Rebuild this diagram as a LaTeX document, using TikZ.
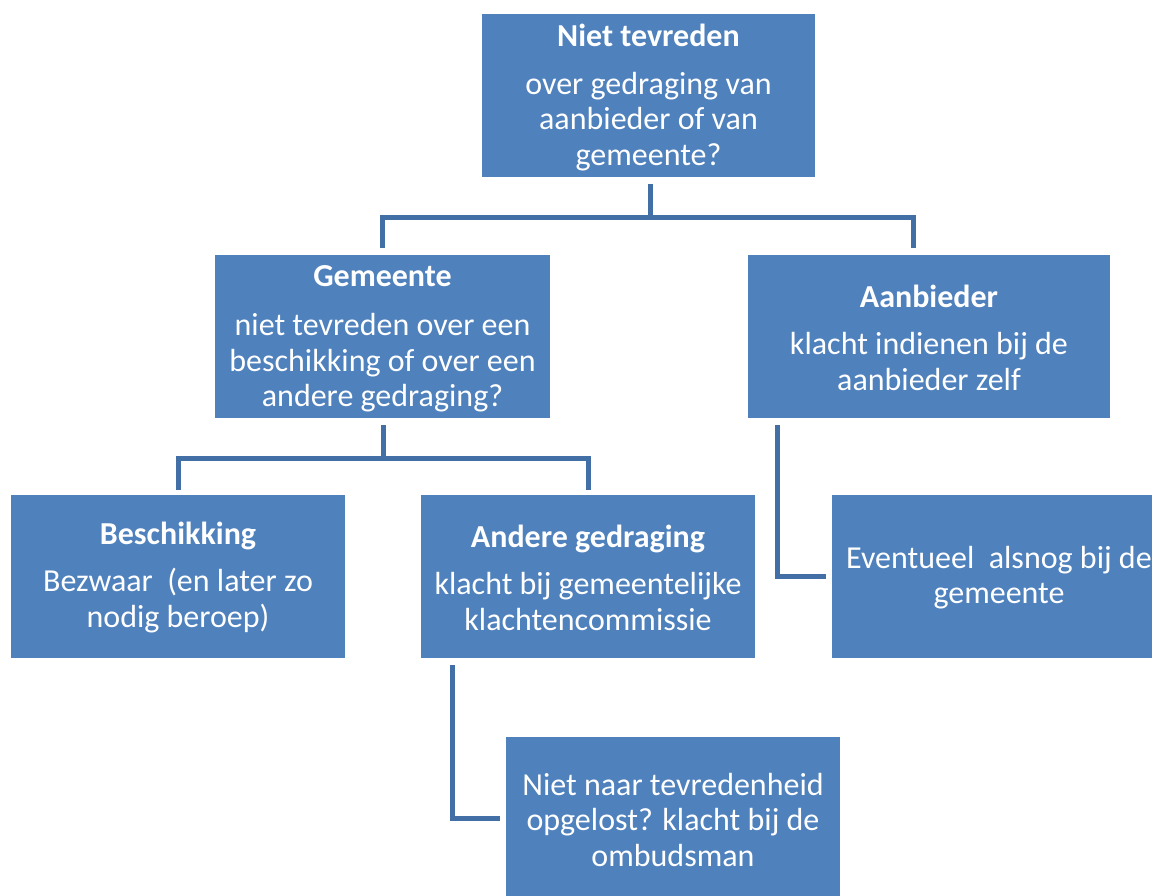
\documentclass[tikz,border=0pt]{standalone}
\usepackage{fontspec}
\setmainfont{Carlito}
\definecolor{boxblue}{HTML}{4F81BD}
\definecolor{lineblue}{HTML}{416FA6}
\begin{document}
\begin{tikzpicture}[x=1pt,y=-1pt,
  box/.style={rectangle, fill=boxblue, draw=none, inner sep=0pt, minimum height=163pt},
  txt/.style={inner sep=0pt, text=white, align=center, font=\fontsize{32}{35.5}\selectfont},
  conn/.style={draw=lineblue, line width=5pt, line join=miter}]
\useasboundingbox (0,0) rectangle (1152,895);
\clip (0,0) rectangle (1152,895);
\fill[white] (0,0) rectangle (1152,895);
% boxes
\node[box, minimum width=333pt] (top) at (648.5,95.5) {};
\node[box, minimum width=335pt] (gem) at (382.5,336.5) {};
\node[box, minimum width=362pt] (aanb) at (929,336.5) {};
\node[box, minimum width=334pt] (besch) at (178,576.5) {};
\node[box, minimum width=334pt] (andere) at (588,576.5) {};
\node[box, minimum width=334pt] (even) at (999,576.5) {};
\node[box, minimum width=334pt] (omb) at (673,818.5) {};
% texts
\node[txt] (ttop) at ([yshift=-2pt]top.center)
  {\textbf{Niet tevreden}\\[12pt]over gedraging van\\aanbieder of van\\gemeente?};
\node[txt] (tgem) at ([yshift=-2pt]gem.center)
  {\textbf{Gemeente}\\[14pt]niet tevreden over een\\beschikking of over een\\andere gedraging?};
\node[txt] (taanb) at ([yshift=-1pt]aanb.center)
  {\textbf{Aanbieder}\\[12pt]klacht indienen bij de\\aanbieder zelf};
\node[txt] (tbesch) at ([yshift=-1pt]besch.center)
  {\textbf{Beschikking}\\[12pt]Bezwaar\ \ (en later zo\\nodig beroep)};
\node[txt] (tandere) at ([yshift=-1pt]andere.center)
  {\textbf{Andere gedraging}\\[12pt]klacht bij gemeentelijke\\klachtencommissie};
\node[txt] (teven) at ([yshift=-1pt]even.center)
  {Eventueel\ \ alsnog bij de\\gemeente};
\node[txt] (tomb) at ([yshift=-1pt]omb.center)
  {Niet naar tevredenheid\\opgelost? klacht bij de\\ombudsman};
% connectors
\coordinate (tj) at ([xshift=1.5pt,yshift=-7pt]top.south);
\coordinate (aj) at ([xshift=-16pt,yshift=7pt]aanb.north);
\draw[conn] (tj) -- ++(0,33) -| ([yshift=7pt]gem.north);
\draw[conn] (tj) ++(0,33) -| (aj);
\coordinate (gj) at ([xshift=0.5pt,yshift=-7pt]gem.south);
\draw[conn] (gj) -- ++(0,33) -| ([yshift=5pt]besch.north);
\draw[conn] (gj) ++(0,33) -| ([yshift=5pt]andere.north);
\draw[conn] ([xshift=30pt,yshift=-7pt]aanb.south west) |- ([xshift=-6pt]even.west);
\draw[conn] ([xshift=32pt,yshift=-7pt]andere.south west) |- ([xshift=-6pt]omb.west);
\end{tikzpicture}
\end{document}
